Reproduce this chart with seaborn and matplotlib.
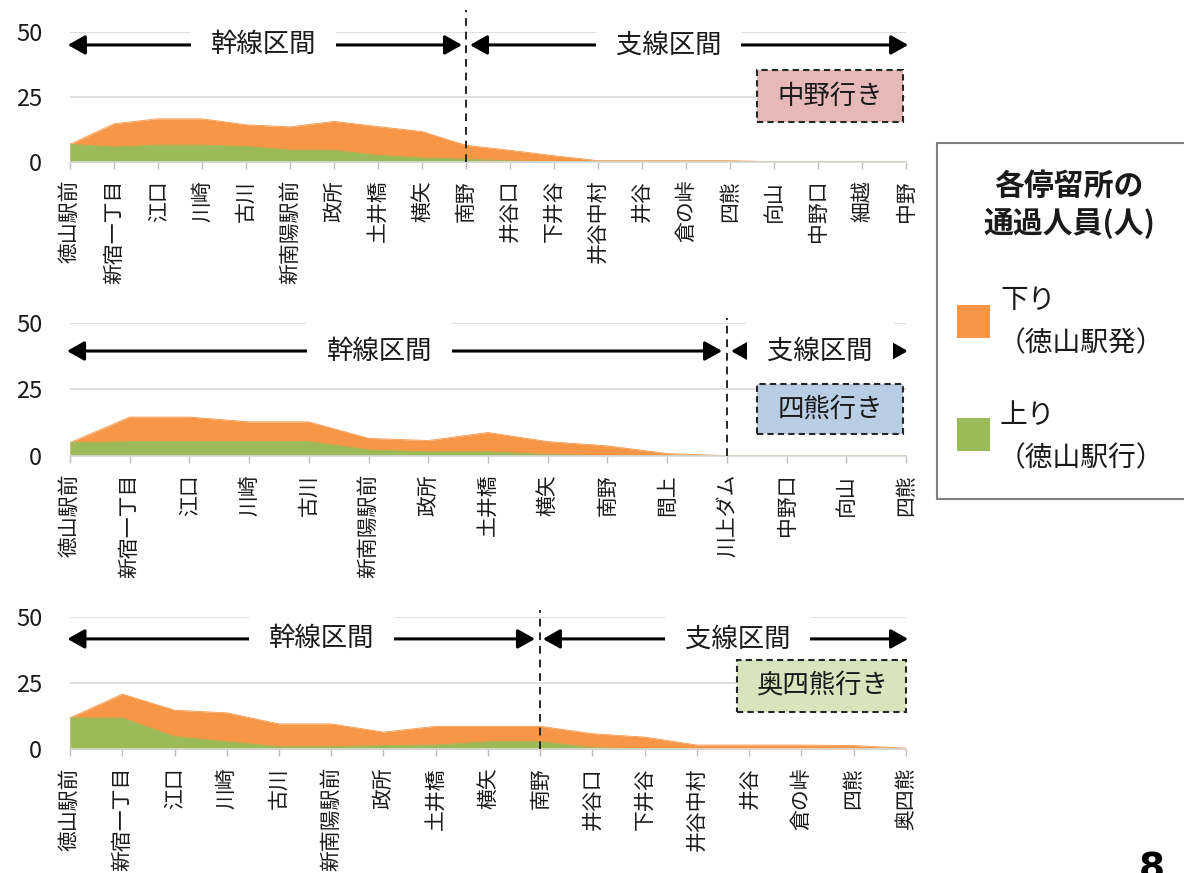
import numpy as np
import pandas as pd
import matplotlib
matplotlib.use("Agg")
import matplotlib.pyplot as plt
from matplotlib.patches import Rectangle
import seaborn as sns

# ---------------- data ----------------
stations_nakano = ['徳山駅前', '新宿一丁目', '江口', '川崎', '古川', '新南陽駅前', '政所', '土井橋',
                   '横矢', '南野', '井谷口', '下井谷', '井谷中村', '井谷', '倉の峠', '四熊', '向山',
                   '中野口', '細越', '中野']
down_nakano = [6.7, 14.6, 16.5, 16.5, 14.2, 13.4, 15.5, 13.5, 11.6, 6.3, 4.4, 2.3, 0.4, 0.4, 0.4, 0.4, 0, 0, 0, 0]
up_nakano = [6.7, 5.7, 6.4, 6.4, 5.9, 4.5, 4.4, 2.5, 1.5, 1.0, 0.3, 0, 0, 0, 0, 0, 0, 0, 0, 0]

stations_shikuma = ['徳山駅前', '新宿一丁目', '江口', '川崎', '古川', '新南陽駅前', '政所', '土井橋',
                    '横矢', '南野', '間上', '川上ダム', '中野口', '向山', '四熊']
down_shikuma = [4.9, 14.5, 14.5, 12.7, 12.7, 6.5, 5.7, 8.7, 5.3, 3.7, 0.8, 0, 0, 0, 0]
up_shikuma = [4.9, 5.3, 5.3, 5.3, 5.3, 2.2, 1.5, 1.5, 0.5, 0, 0, 0, 0, 0, 0]

stations_okushikuma = ['徳山駅前', '新宿一丁目', '江口', '川崎', '古川', '新南陽駅前', '政所', '土井橋',
                       '横矢', '南野', '井谷口', '下井谷', '井谷中村', '井谷', '倉の峠', '四熊', '奥四熊']
down_okushikuma = [11.8, 20.8, 14.7, 13.7, 9.5, 9.5, 6.4, 8.6, 8.6, 8.6, 5.8, 4.5, 1.5, 1.5, 1.5, 1.3, 0.3]
up_okushikuma = [11.8, 11.8, 4.7, 2.8, 0.9, 0.9, 1.3, 1.5, 2.8, 2.8, 0.5, 0, 0, 0, 0, 0, 0]

y_ticks = [0, 25, 50]
section_labels = ['幹線区間', '支線区間']
dest_labels = ['中野行き', '四熊行き', '奥四熊行き']
legend_title = '各停留所の\n通過人員(人)'
legend_down = ['下り', '（徳山駅発）']
legend_up = ['上り', '（徳山駅行）']

# ---------------- style ----------------
sns.set_theme(style="white")
plt.rcParams['font.family'] = ['Noto Sans CJK JP', 'DejaVu Sans']

ORANGE = '#f79646'
GREEN = '#9bbb59'
TXT = '#1a1a1a'
W, H = 1184, 873
fig = plt.figure(figsize=(W / 100, H / 100), dpi=100)


def px_rect(x0, y0, x1, y1):
    return (x0 / W, 1 - y1 / H, (x1 - x0) / W, (y1 - y0) / H)


panels = [
    dict(st=stations_nakano, down=down_nakano, up=up_nakano, top=31.7, bottom=161.7,
         split=9, line_top=58.3, ay=44.9,
         main_arrow=(-0.05, 8.91), branch_arrow=(9.09, 19.05), main_x=4.39, branch_x=13.6,
         box=(757, 70, 903, 122, '#e6b9b8'), label=dest_labels[0]),
    dict(st=stations_shikuma, down=down_shikuma, up=up_shikuma, top=322.5, bottom=455.7,
         split=11, line_top=51.7, ay=39.3,
         main_arrow=(-0.05, 10.92), branch_arrow=(11.07, 14.03), main_x=5.19, branch_x=12.56,
         box=(757, 384, 903, 434, '#b9cde5'), label=dest_labels[1]),
    dict(st=stations_okushikuma, down=down_okushikuma, up=up_okushikuma, top=617, bottom=749,
         split=9, line_top=52.7, ay=41.7,
         main_arrow=(-0.05, 8.9), branch_arrow=(9.05, 16.04), main_x=4.82, branch_x=12.78,
         box=(737, 660, 906, 712, '#d7e4bd'), label=dest_labels[2]),
]

for p in panels:
    ax = fig.add_axes(px_rect(70, p['top'], 906, p['bottom']))
    n = len(p['st'])
    x = np.arange(n)
    df = pd.DataFrame({'x': x, 'down': p['down'], 'up': p['up']})
    ax.fill_between(df['x'], 0, df['down'], color=ORANGE, lw=0, zorder=1)
    ax.fill_between(df['x'], 0, df['up'], color=GREEN, lw=0, zorder=1.2)
    sns.lineplot(data=df, x='x', y='down', ax=ax, color=ORANGE, lw=0.6, zorder=1.1)
    sns.lineplot(data=df, x='x', y='up', ax=ax, color=GREEN, lw=0.6, zorder=1.3)

    ax.set_xlim(0, n - 1)
    ax.set_ylim(0, 50)
    ax.set_yticks(y_ticks)
    ax.set_yticklabels([str(v) for v in y_ticks], fontsize=17, color=TXT)
    ax.set_xticks(x)
    ax.set_xticklabels(p['st'], rotation=90, fontsize=15, color=TXT, va='top', ha='center')
    ax.set_xlabel('')
    ax.set_ylabel('')
    ax.tick_params(axis='x', bottom=True, length=5, width=1, color='#bfbfbf', pad=8, direction='out')
    ax.tick_params(axis='y', left=False, length=0, pad=20)
    ax.grid(False)
    ax.yaxis.grid(True, color='#d9d9d9', lw=1.2)
    ax.set_axisbelow(True)
    sns.despine(ax=ax, left=True, top=True, right=True)
    ax.spines['bottom'].set_color('#d9d9d9')
    ax.spines['bottom'].set_linewidth(1.2)
    ax.patch.set_alpha(0)

    # split dashed line
    ax.plot([p['split'], p['split']], [0, p['line_top']], color='#262626', lw=1.4,
            ls=(0, (4, 3)), clip_on=False, zorder=5)

    # section arrows
    for (a0, a1) in (p['main_arrow'], p['branch_arrow']):
        ax.annotate('', xy=(a1, p['ay']), xytext=(a0, p['ay']), annotation_clip=False,
                    arrowprops=dict(arrowstyle='<|-|>,head_length=0.8,head_width=0.45',
                                    mutation_scale=13, color='black', lw=2.2,
                                    shrinkA=0, shrinkB=0), zorder=6)
    for tx, lab in ((p['main_x'], section_labels[0]), (p['branch_x'], section_labels[1])):
        ax.text(tx, p['ay'], lab, ha='center', va='center', fontsize=19, color=TXT,
                bbox=dict(boxstyle='square,pad=0.75', fc='white', ec='none'), zorder=7,
                clip_on=False)

    # destination box
    bx0, by0, bx1, by1, bfc = p['box']
    fig.add_artist(Rectangle((bx0 / W, 1 - by1 / H), (bx1 - bx0) / W, (by1 - by0) / H,
                             transform=fig.transFigure, fc=bfc, ec='#262626', lw=1.5,
                             ls=(0, (3, 2)), zorder=10))
    fig.text((bx0 + bx1) / 2 / W, 1 - (by0 + by1) / 2 / H, p['label'], ha='center', va='center',
             fontsize=19, color=TXT, zorder=11)

# ---------------- legend ----------------
fig.add_artist(Rectangle((937 / W, 1 - 499 / H), (1200 - 937) / W, (499 - 143) / H,
                         transform=fig.transFigure, fc='white', ec='#808080', lw=1.5,
                         clip_on=False, zorder=10))
fig.text(1069 / W, 1 - 205 / H, legend_title, ha='center', va='center', fontsize=21.5,
         fontweight='bold', color=TXT, linespacing=1.25, zorder=11)
fig.add_artist(Rectangle((957 / W, 1 - 338 / H), 33 / W, 33 / H, transform=fig.transFigure,
                         fc=ORANGE, ec='none', zorder=11))
fig.add_artist(Rectangle((957 / W, 1 - 451 / H), 33 / W, 33 / H, transform=fig.transFigure,
                         fc=GREEN, ec='none', zorder=11))
fig.text(1000 / W, 1 - 300 / H, legend_down[0], ha='left', va='center', fontsize=20,
         color=TXT, zorder=11)
fig.text(998 / W, 1 - 343 / H, legend_down[1], ha='left', va='center', fontsize=20,
         color=TXT, zorder=11)
fig.text(1000 / W, 1 - 415 / H, legend_up[0], ha='left', va='center', fontsize=20,
         color=TXT, zorder=11)
fig.text(998 / W, 1 - 458 / H, legend_up[1], ha='left', va='center', fontsize=20,
         color=TXT, zorder=11)

# page number (cut off at the bottom edge, as in the reference)
fig.text(1152 / W, 1 - 880 / H, '8', ha='center', va='baseline', fontsize=27,
         fontweight='bold', color='black', family='DejaVu Sans')

fig.savefig('out.png', dpi=100)
